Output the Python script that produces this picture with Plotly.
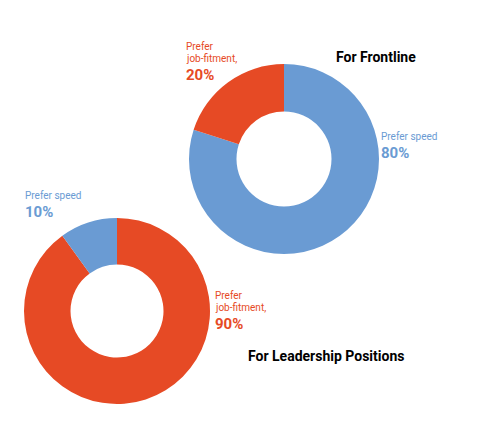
import plotly.graph_objects as go

labels = ["Prefer speed", "Prefer job-fitment"]
frontline = [80, 20]
leadership = [10, 90]
blue = "#6A9BD3"
orange = "#E64A25"

W, H = 486, 433
DX, DY = -8, -7  # page offset correction

def px(x, y):
    return (x + DX) / W, 1 - (y + DY) / H

def dom(x0, x1, y0, y1):
    a0, b1 = px(x0, y0)
    a1, b0 = px(x1, y1)
    return dict(x=[a0, a1], y=[b0, b1])

fig = go.Figure()
fig.add_trace(go.Pie(
    values=frontline, labels=labels, hole=0.5, sort=False, direction="clockwise",
    marker=dict(colors=[blue, orange], line=dict(color="white", width=0)),
    textinfo="none", hoverinfo="label+percent",
    domain=dom(189, 379, 63, 253),
))
fig.add_trace(go.Pie(
    values=leadership[::-1], labels=labels[::-1], hole=0.5, sort=False, direction="clockwise",
    marker=dict(colors=[orange, blue], line=dict(color="white", width=0)),
    textinfo="none", hoverinfo="label+percent",
    domain=dom(24, 210, 217, 403),
))

def text(x, y, t, size, color):
    ax, ay = px(x, y)
    fig.add_annotation(x=ax, y=ay, xref="paper", yref="paper", xanchor="left", yanchor="top",
                       align="left", showarrow=False, text=t,
                       font=dict(family="Roboto", size=size, color=color))

def label(x, y, lines, pct, color):
    for i, ln in enumerate(lines):
        text(x, y + i * 12, ln, 10, color)
    text(x, y + len(lines) * 12 + 1, f"<b>{pct}%</b>", 15, color)

label(184, 38, ["Prefer", "job-fitment,"], frontline[1], orange)
label(379, 128, ["Prefer speed"], frontline[0], blue)
label(23, 187, ["Prefer speed"], leadership[0], blue)
label(213, 287, ["Prefer", "job-fitment,"], leadership[1], orange)

text(334, 46, "<b>For Frontline</b>", 14, "black")
text(246, 345, "<b>For Leadership Positions</b>", 14, "black")

fig.update_layout(width=W, height=H, margin=dict(l=0, r=0, t=0, b=0),
                  showlegend=False, paper_bgcolor="white", plot_bgcolor="white")
fig.write_html("out.html")
